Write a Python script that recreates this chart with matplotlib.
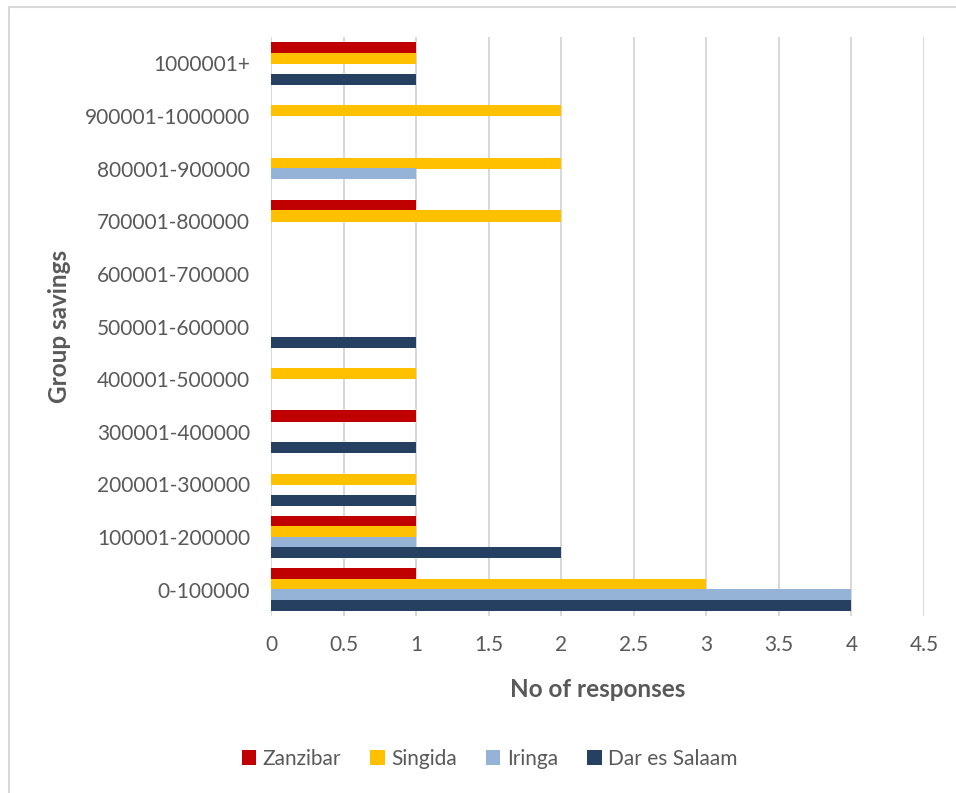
import numpy as np
import matplotlib.pyplot as plt
from matplotlib.patches import Rectangle

categories = ['0-100000', '100001-200000', '200001-300000', '300001-400000',
              '400001-500000', '500001-600000', '600001-700000', '700001-800000',
              '800001-900000', '900001-1000000', '1000001+']

zanzibar = [1, 1, 0, 1, 0, 0, 0, 1, 0, 0, 1]
singida = [3, 1, 1, 0, 1, 0, 0, 2, 2, 2, 1]
iringa = [4, 1, 0, 0, 0, 0, 0, 0, 1, 0, 0]
dar_es_salaam = [4, 2, 1, 1, 0, 1, 0, 0, 0, 0, 1]

x_ticks = [0, 0.5, 1, 1.5, 2, 2.5, 3, 3.5, 4, 4.5]
x_tick_labels = ['0', '0.5', '1', '1.5', '2', '2.5', '3', '3.5', '4', '4.5']

plt.rcParams['font.family'] = ['Lato', 'DejaVu Sans']
grey = '#595959'

fig = plt.figure(figsize=(9.56, 7.93), dpi=100)
ax = fig.add_axes([0.2835, 0.2232, 0.683, 0.7301])

# outer chart border (only top and left visible in the crop)
fig.patches.append(Rectangle((9 / 956, -0.05), 1.2, 1.05 - 7 / 793,
                             transform=fig.transFigure, fill=False,
                             edgecolor='#d9d9d9', linewidth=1.5))

y = np.arange(len(categories))
h = 0.21
ax.barh(y + 0.3, zanzibar, h, color='#C00000', label='Zanzibar', zorder=3)
ax.barh(y + 0.1, singida, h, color='#FFC000', label='Singida', zorder=3)
ax.barh(y - 0.1, iringa, h, color='#95B3D7', label='Iringa', zorder=3)
ax.barh(y - 0.3, dar_es_salaam, h, color='#254061', label='Dar es Salaam', zorder=3)

ax.set_xlim(0, 4.5)
ax.set_ylim(-0.5, 10.5)
ax.set_xticks(x_ticks)
ax.set_xticklabels(x_tick_labels)
ax.set_yticks(y)
ax.set_yticklabels(categories)
ax.tick_params(length=0, labelsize=15, colors=grey)
ax.tick_params(axis='x', pad=14)
ax.tick_params(axis='y', pad=15)

ax.grid(axis='x', color='#d9d9d9', linewidth=1.5, zorder=0)
for s in ax.spines.values():
    s.set_visible(False)

ax.set_xlabel('No of responses', fontsize=17.5, fontweight='bold', color=grey, labelpad=16)
ax.set_ylabel('Group savings', fontsize=17.5, fontweight='bold', color=grey, labelpad=10)

ax.legend(loc='center', bbox_to_anchor=(0.512, 0.043), bbox_transform=fig.transFigure,
          ncol=4, frameon=False, fontsize=15, labelcolor=grey,
          handlelength=0.7, handleheight=0.7, handletextpad=0.3, columnspacing=1.4)

fig.savefig('out.png', dpi=100)
